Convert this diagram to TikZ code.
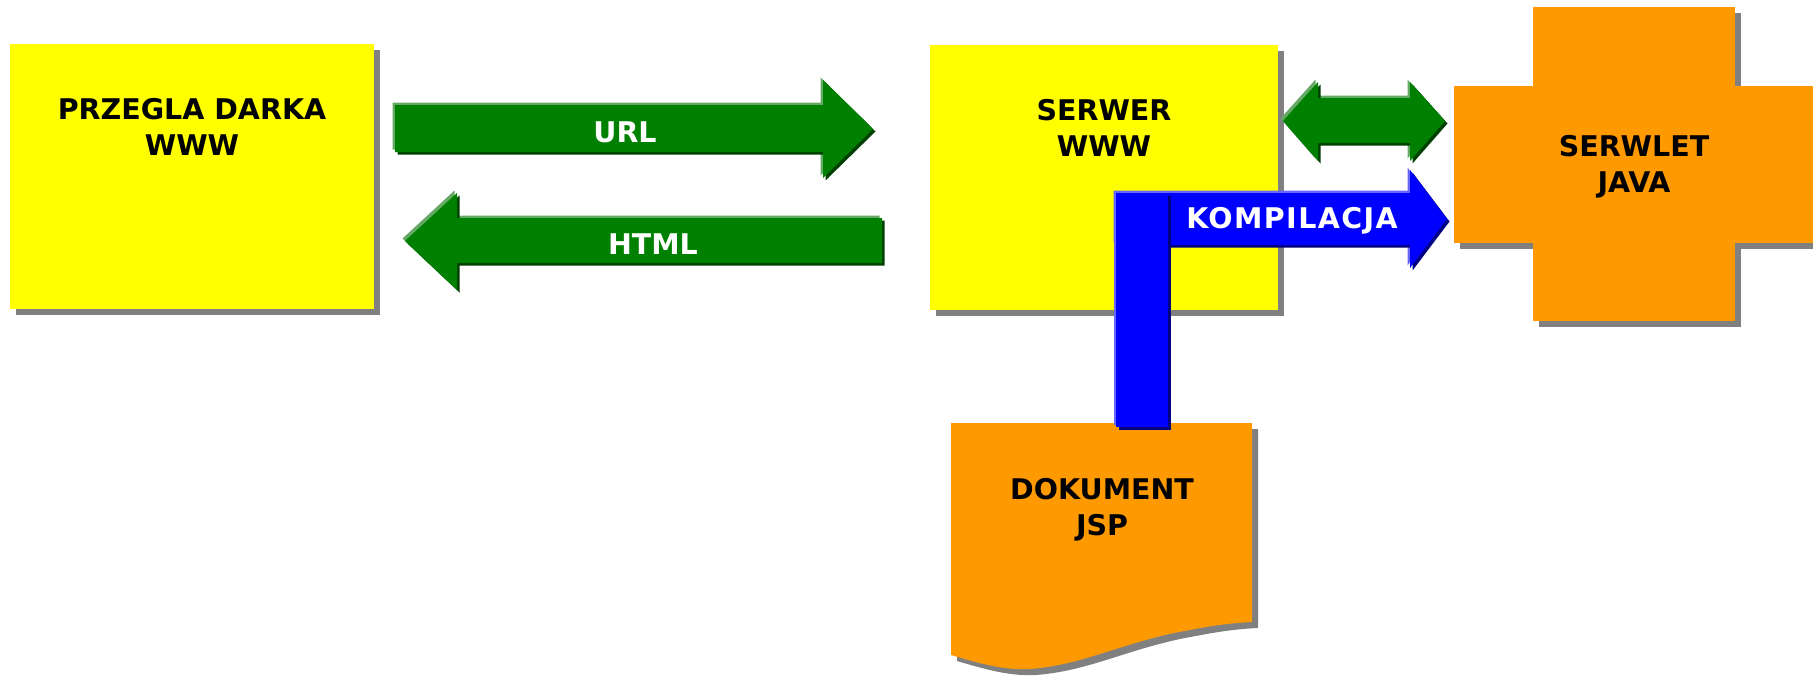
\documentclass[tikz,border=0pt]{standalone}
\usepackage{fontspec}
\setmainfont{DejaVu Sans}
\usetikzlibrary{shadows}
\definecolor{yel}{HTML}{FFFF00}
\definecolor{ora}{HTML}{FF9900}
\definecolor{grn}{HTML}{008000}
\definecolor{grnlight}{HTML}{66A866}
\definecolor{grndark}{HTML}{004000}
\definecolor{blu}{HTML}{0000FF}
\definecolor{blulight}{HTML}{6666FF}
\definecolor{bludark}{HTML}{000080}
\definecolor{shd}{HTML}{808080}
\tikzset{
  ybox/.style={fill=yel, draw=none, inner sep=0pt,
    general shadow={fill=shd, shadow xshift=6pt, shadow yshift=-6pt}},
  boxtxt/.style={font=\fontsize{28.5}{36}\selectfont\bfseries, text=black, align=center, inner sep=0pt, anchor=north},
  arrtxt/.style={font=\fontsize{28.5}{36}\selectfont\bfseries, text=white, inner sep=0pt, anchor=base},
}
\begin{document}
\begin{tikzpicture}[x=1pt,y=-1pt]
\clip (0,0) rectangle (1813,675);
\fill[white] (0,0) rectangle (1813,675);

% boxes
\node[ybox, minimum width=364pt, minimum height=265pt] (browser) at (192,176.5) {};
\node[boxtxt] (browsertxt) at (192,98) {PRZEGLA DARKA\\WWW};
\node[ybox, minimum width=348pt, minimum height=265pt] (server) at (1104,177.5) {};
\node[boxtxt] (servertxt) at (1104,99) {SERWER\\WWW};

% URL arrow
\foreach \dx/\col in {-2.5/grnlight, 2.5/grndark, 0/grn} {
  \fill[\col, shift={(\dx,\dx)}] (395,105) -- (823,105) -- (823,80) -- (873,129) -- (823,178) -- (823,152) -- (395,152) -- cycle;
}
\node[arrtxt] (urltxt) at (625,142) {URL};

% HTML arrow
\foreach \dx/\col in {-2.5/grnlight, 2.5/grndark, 0/grn} {
  \fill[\col, shift={(\dx,\dx)}] (882,218) -- (457,218) -- (457,193) -- (405,241) -- (457,290) -- (457,263) -- (882,263) -- cycle;
}
\node[arrtxt] (htmltxt) at (653,254) {HTML};

% double arrow server <-> servlet
\foreach \dx/\col in {-2.5/grnlight, 2.5/grndark, 0/grn} {
  \fill[\col, shift={(\dx,\dx)}] (1283,121) -- (1318,82) -- (1318,98) -- (1410,98) -- (1410,82) -- (1445,121) -- (1410,161) -- (1410,143) -- (1318,143) -- (1318,161) -- cycle;
}

% cross (servlet)
\fill[shd] (1539,13) rectangle (1741,327);
\fill[shd] (1460,92) rectangle (1840,249);
\fill[ora] (1533,7) rectangle (1735,321);
\fill[ora] (1454,86) rectangle (1840,243);
\node[boxtxt] (servlettxt) at (1634,135) {SERWLET\\JAVA};

% document JSP
\fill[shd, shift={(6,6)}] (951,423) -- (1252,423) -- (1252,622) .. controls (1230,623) and (1210,626) .. (1190,630) .. controls (1130,640) and (1090,662) .. (1040,668) .. controls (1010,672) and (985,665) .. (951,655) -- cycle;
\fill[ora] (951,423) -- (1252,423) -- (1252,622) .. controls (1230,623) and (1210,626) .. (1190,630) .. controls (1130,640) and (1090,662) .. (1040,668) .. controls (1010,672) and (985,665) .. (951,655) -- cycle;
\node[boxtxt] (doctxt) at (1102,478) {DOKUMENT\\JSP};

% compilation arrow
\foreach \dx/\col in {-2.5/blulight, 2.5/bludark, 0/blu} {
  \fill[\col, shift={(\dx,\dx)}] (1116,193) -- (1410,193) -- (1410,170) -- (1447,219) -- (1410,268) -- (1410,245) -- (1116,245) -- cycle;
}
\foreach \dx/\col in {-2.5/blulight, 2.5/bludark, 0/blu} {
  \fill[\col, shift={(\dx,\dx)}] (1116,193) rectangle (1168,427);
}
\node[arrtxt] (komptxt) at (1292,228) {\addfontfeature{LetterSpace=5}KOMPILACJA};
\end{tikzpicture}
\end{document}
